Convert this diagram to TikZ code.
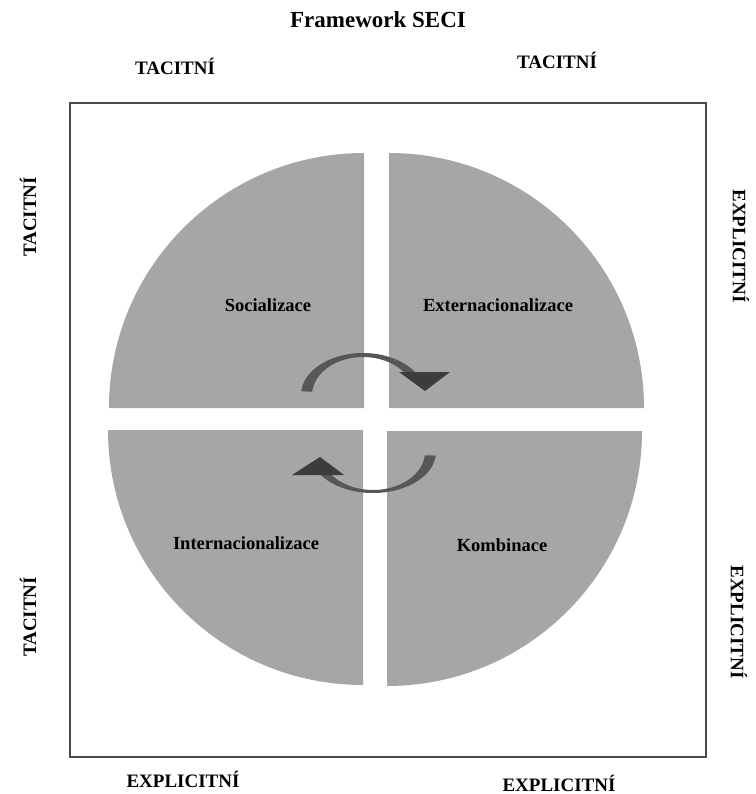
\documentclass[tikz,border=0pt]{standalone}
\usepackage{fontspec}
\setmainfont{Liberation Serif}
\usetikzlibrary{calc}
\definecolor{quad}{HTML}{A6A6A6}
\definecolor{frameline}{HTML}{4A4A4A}
\definecolor{arcgray}{HTML}{575757}
\definecolor{headgray}{HTML}{3C3C3C}
\tikzset{
  axislabel/.style={font=\bfseries\fontsize{19}{21}\selectfont, inner sep=0pt},
  quadlabel/.style={font=\bfseries\fontsize{18.5}{20}\selectfont, inner sep=0pt},
  quadfill/.style={fill=quad},
  cyclearc/.style={fill=arcgray},
  cyclehead/.style={fill=headgray}
}
\begin{document}
\begin{tikzpicture}[x=1pt,y=-1pt]
\useasboundingbox (0,0) rectangle (755,794);

% title
\node[font=\bfseries\fontsize{23}{26}\selectfont, inner sep=0pt] (title) at (378,20) {Framework SECI};

% outer frame
\draw[frameline, line width=1.8pt] (70,103) rectangle (706,757);

% four quarter discs
\fill[quadfill] (364,408) -- (109,408) arc[start angle=180, end angle=270, radius=255] -- cycle;
\fill[quadfill] (389,408) -- (389,153) arc[start angle=270, end angle=360, radius=255] -- cycle;
\fill[quadfill] (387,431) -- (642,431) arc[start angle=0, end angle=90, radius=255] -- cycle;
\fill[quadfill] (363,430) -- (363,685) arc[start angle=90, end angle=180, radius=255] -- cycle;

% quadrant names
\node[quadlabel] (soc) at (268,305) {Socializace};
\node[quadlabel] (ext) at (498,305) {Externacionalizace};
\node[quadlabel] (int) at (246,543) {Internacionalizace};
\node[quadlabel] (kom) at (502,545) {Kombinace};

% upper cycle arrow (left to right over the top)
\coordinate (ca) at (363,395);
\fill[cyclearc] ($(ca)+(185:62 and 42)$) arc[start angle=185, end angle=328, x radius=62, y radius=42]
  -- ($(ca)+(328:51 and 38)$) arc[start angle=328, end angle=185, x radius=51, y radius=38] -- cycle;
\fill[cyclehead] (399,372) -- (450,372) -- (425,391) -- cycle;

% lower cycle arrow (right to left under the bottom)
\coordinate (cb) at (373,452);
\fill[cyclearc] ($(cb)+(5:63 and 41)$) arc[start angle=5, end angle=148, x radius=63, y radius=41]
  -- ($(cb)+(148:52 and 38)$) arc[start angle=148, end angle=5, x radius=52, y radius=38] -- cycle;
\fill[cyclehead] (292,475) -- (344,475) -- (320,457) -- cycle;

% axis labels
\node[axislabel] (tl) at (175,66) {TACITNÍ};
\node[axislabel] (tr) at (557,60) {TACITNÍ};
\node[axislabel, rotate=90] (l1) at (28,217) {TACITNÍ};
\node[axislabel, rotate=90] (l2) at (28,617) {TACITNÍ};
\node[axislabel, rotate=-90] (r1) at (741,246) {EXPLICITNÍ};
\node[axislabel, rotate=-90] (r2) at (739,622) {EXPLICITNÍ};
\node[axislabel] (b1) at (183,779) {EXPLICITNÍ};
\node[axislabel] (b2) at (559,783) {EXPLICITNÍ};
\end{tikzpicture}
\end{document}
